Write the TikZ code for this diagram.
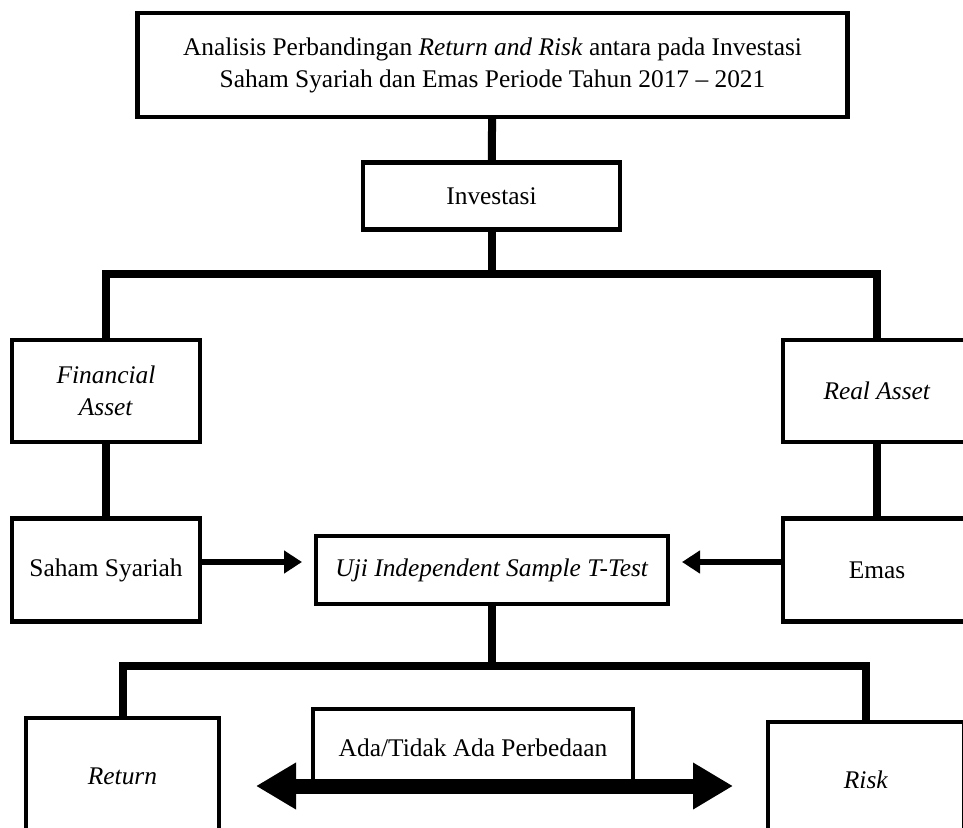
\documentclass[tikz,border=0pt]{standalone}
\usepackage{fontspec}
\setmainfont{Liberation Serif}
\usetikzlibrary{arrows.meta}

\begin{document}
\begin{tikzpicture}[x=0.5pt, y=-0.5pt,
	box/.style={draw, line width=2.25pt, inner sep=0pt, outer sep=0pt, align=center, font=\fontsize{12.7}{16}\selectfont},
	link/.style={line width=4pt},
	flow/.style={line width=3pt, -{Triangle[length=9pt,width=11pt]}, shorten >=7pt},
	>={Triangle[length=20pt,width=22pt]}]
	\useasboundingbox (0,0) rectangle (963,828);
	\clip (0,0) rectangle (963,828);
	% boxes
	\node[box, minimum width=355pt, minimum height=52pt] (judul) at (492.5,65) {Analisis Perbandingan \textit{Return and Risk} antara pada Investasi\\Saham Syariah dan Emas Periode Tahun 2017 -- 2021};
	\node[box, minimum width=128.5pt, minimum height=33.5pt] (inv) at (491.5,196) {Investasi};
	\node[box, minimum width=94pt, minimum height=51pt] (fin) at (106,391) {\textit{Financial}\\\textit{Asset}};
	\node[box, minimum width=94pt, minimum height=51pt] (real) at (877,391) {\textit{Real Asset}};
	\node[box, minimum width=94pt, minimum height=51.5pt] (saham) at (106,570) {Saham Syariah};
	\node[box, minimum width=94pt, minimum height=51.5pt] (emas) at (877,570) {Emas};
	\node[box, minimum width=176pt, minimum height=34pt] (uji) at (492,570) {\textit{Uji Independent Sample T-Test}};
	\node[box, minimum width=96.5pt, minimum height=58pt] (ret) at (122.5,776) {\textit{Return}};
	\node[box, minimum width=98pt, minimum height=58pt] (risk) at (866,780) {\textit{Risk}};
	\node[box, minimum width=160pt, minimum height=38.5pt] (beda) at (473,747.5) {Ada/Tidak Ada Perbedaan};
	% branch points
	\coordinate (cab1) at (491.5,274);
	\coordinate (cab2) at (492,666);
	\coordinate (bedaL) at (256,786);
	\coordinate (bedaR) at (733,786);
	% connectors
	\draw[link] (judul) -- (inv);
	\draw[link] (inv) -- (cab1);
	\draw[link] (fin.north) |- (cab1) -| (real.north);
	\draw[link] (fin) -- (saham);
	\draw[link] (real) -- (emas);
	\draw[flow] ([yshift=4pt]saham.east) -- ([yshift=4pt]saham.east -| uji.west);
	\draw[flow] ([yshift=4pt]emas.west) -- ([yshift=4pt]emas.west -| uji.east);
	\draw[link] (uji) -- (cab2);
	\draw[link] (ret.north) |- (cab2) -| (risk.north);
	\draw[line width=7.5pt, <->] (bedaL) -- (bedaR);
\end{tikzpicture}
\end{document}
